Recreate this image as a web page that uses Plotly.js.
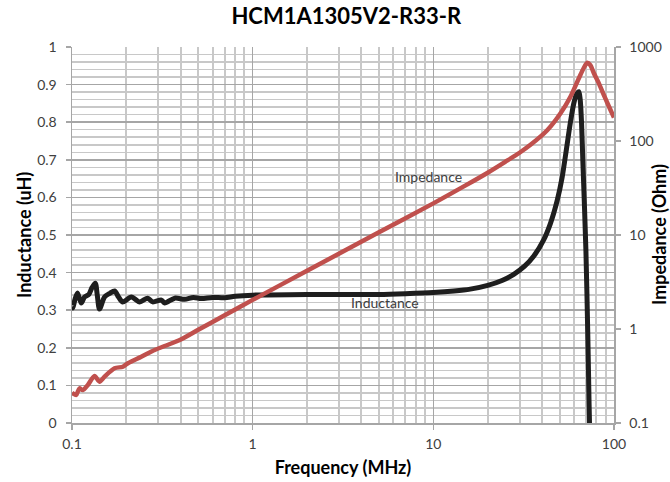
<!DOCTYPE html>
<html><head><meta charset="utf-8">
<script src="https://cdn.plot.ly/plotly-3.0.1.min.js"></script>
<style>html,body{margin:0;padding:0;background:#fff}#chart{width:670px;height:482px}</style>
</head><body><div id="chart"></div>
<script>
const chartTitle = "HCM1A1305V2-R33-R";
const xTitle = "Frequency (MHz)";
const yTitle = "Inductance (uH)";
const y2Title = "Impedance (Ohm)";

const inductanceFreq = [0.1, 0.101, 0.104, 0.1073, 0.1124, 0.1173, 0.124, 0.129, 0.1345, 0.138, 0.142, 0.1514, 0.162, 0.1721, 0.181, 0.1906, 0.213, 0.2368, 0.2623, 0.2797, 0.3124, 0.3258, 0.3703, 0.42, 0.47, 0.52, 0.6, 0.7, 0.8, 1, 2, 3, 5, 7, 10, 13, 16, 20, 24, 28, 32, 36, 40.8, 44.5, 48.5, 51.7, 54.6, 57.4, 59.9, 62, 63.9, 65, 66.1, 67.2, 69.9, 71.7, 72.8, 74.1];
const inductanceVal = [0.31, 0.306, 0.33, 0.346, 0.319, 0.335, 0.342, 0.36, 0.372, 0.34, 0.303, 0.335, 0.345, 0.351, 0.335, 0.322, 0.335, 0.322, 0.332, 0.322, 0.327, 0.319, 0.332, 0.329, 0.334, 0.331, 0.334, 0.333, 0.337, 0.34, 0.342, 0.342, 0.342, 0.344, 0.347, 0.351, 0.356, 0.366, 0.379, 0.396, 0.417, 0.444, 0.487, 0.531, 0.592, 0.655, 0.73, 0.80, 0.85, 0.874, 0.881, 0.86, 0.80, 0.70, 0.46, 0.22, 0.05, -0.12];

const impedanceFreq = [0.1, 0.101, 0.1055, 0.11, 0.1148, 0.1224, 0.1333, 0.142, 0.1514, 0.1721, 0.1913, 0.2039, 0.2418, 0.2869, 0.3258, 0.3949, 0.5, 0.7, 1, 2, 5, 10, 15, 20, 25, 30, 34.5, 42.7, 50.6, 57.4, 63.9, 68, 71.1, 74, 77.4, 82, 87.9, 94, 100];
const impedanceVal = [0.21, 0.207, 0.199, 0.234, 0.224, 0.254, 0.316, 0.275, 0.311, 0.382, 0.397, 0.432, 0.507, 0.598, 0.659, 0.764, 0.98, 1.40, 2.04, 4.16, 10.7, 21.7, 33.5, 46, 60, 75, 91, 130, 197, 296, 465, 598, 681, 640, 525, 420, 308, 230, 178];

const xTickVals = [0.1, 1, 10, 100];
const xTickText = ["0.1", "1", "10", "100"];
const xMinorVals = [0.2,0.3,0.4,0.5,0.6,0.7,0.8,0.9,2,3,4,5,6,7,8,9,20,30,40,50,60,70,80,90];
const y2TickVals = [0.1, 1, 10, 100, 1000];
const y2TickText = ["0.1", "1", "10", "100", "1000"];

const FONT = "Lato, 'Open Sans', sans-serif";
const txt = "#404040";

const traces = [
  {x: impedanceFreq, y: impedanceVal, name: "Impedance", yaxis: "y2", type: "scatter", mode: "lines",
   line: {color: "#c0504d", width: 4.5, shape: "spline", smoothing: 0.8}},
  {x: inductanceFreq, y: inductanceVal, name: "Inductance", yaxis: "y", type: "scatter", mode: "lines",
   line: {color: "#1e1e1e", width: 5, shape: "spline", smoothing: 0.8}}
];

const layout = {
  width: 670, height: 482,
  margin: {l: 72, r: 56, t: 47, b: 59},
  paper_bgcolor: "#fff", plot_bgcolor: "#fff",
  showlegend: false,
  font: {family: FONT, color: txt, size: 14},
  title: {text: chartTitle, font: {family: FONT, size: 22, color: "#000", weight: "bold"},
          x: 339/670, xanchor: "center", y: 1 - 16/482, yanchor: "middle", xref: "paper", yref: "container"},
  xaxis: {
    type: "log", range: [-1, 2],
    tickmode: "array", tickvals: xTickVals, ticktext: xTickText,
    showgrid: true, gridcolor: "#a6a6a6", gridwidth: 1.5,
    minor: {tickmode: "array", tickvals: xMinorVals, showgrid: true, gridcolor: "#c8c8c8", gridwidth: 2, ticks: ""},
    showline: true, linecolor: "#a6a6a6", linewidth: 1.5,
    ticks: "outside", ticklen: 5, tickcolor: "#a6a6a6", tickwidth: 1.5,
    ticklabelstandoff: 3,
    tickfont: {family: FONT, size: 14, color: txt},
    title: {text: xTitle, font: {family: FONT, size: 18, color: "#000", weight: "bold"}, standoff: 10},
    zeroline: false, automargin: false
  },
  yaxis: {
    range: [0, 1], dtick: 0.1, tick0: 0,
    showgrid: true, gridcolor: "#a6a6a6", gridwidth: 1.5,
    minor: {dtick: 0.02, showgrid: true, gridcolor: "#c8c8c8", gridwidth: 1.5, ticks: ""},
    showline: true, linecolor: "#a6a6a6", linewidth: 1.5,
    ticks: "outside", ticklen: 5, tickcolor: "#a6a6a6", tickwidth: 1.5,
    ticklabelstandoff: 6,
    tickfont: {family: FONT, size: 14, color: txt},
    zeroline: false, automargin: false
  },
  yaxis2: {
    type: "log", range: [-1, 3], overlaying: "y", side: "right",
    tickmode: "array", tickvals: y2TickVals, ticktext: y2TickText,
    showgrid: false,
    showline: true, linecolor: "#a6a6a6", linewidth: 1.5,
    ticks: "outside", ticklen: 5, tickcolor: "#a6a6a6", tickwidth: 1.5,
    ticklabelstandoff: 6,
    tickfont: {family: FONT, size: 14, color: txt},
    zeroline: false, automargin: false
  },
  annotations: [
    {text: yTitle, xref: "paper", yref: "paper", x: (24 - 72) / 542, y: 0.5,
     xanchor: "center", yanchor: "middle", textangle: -90, showarrow: false,
     font: {family: FONT, size: 18, color: "#000", weight: "bold"}},
    {text: y2Title, xref: "paper", yref: "paper", x: (659 - 72) / 542, y: 0.5,
     xanchor: "center", yanchor: "middle", textangle: -90, showarrow: false,
     font: {family: FONT, size: 18, color: "#000", weight: "bold"}},
    {text: "Impedance", xref: "paper", yref: "paper", x: (428 - 72) / 542, y: 1 - (176 - 47) / 376,
     xanchor: "center", yanchor: "middle", showarrow: false, font: {family: FONT, size: 14, color: txt}},
    {text: "Inductance", xref: "paper", yref: "paper", x: (385 - 72) / 542, y: 1 - (302 - 47) / 376,
     xanchor: "center", yanchor: "middle", showarrow: false, font: {family: FONT, size: 14, color: txt}}
  ]
};

Plotly.newPlot("chart", traces, layout, {staticPlot: true, displayModeBar: false});
</script>
</body></html>
